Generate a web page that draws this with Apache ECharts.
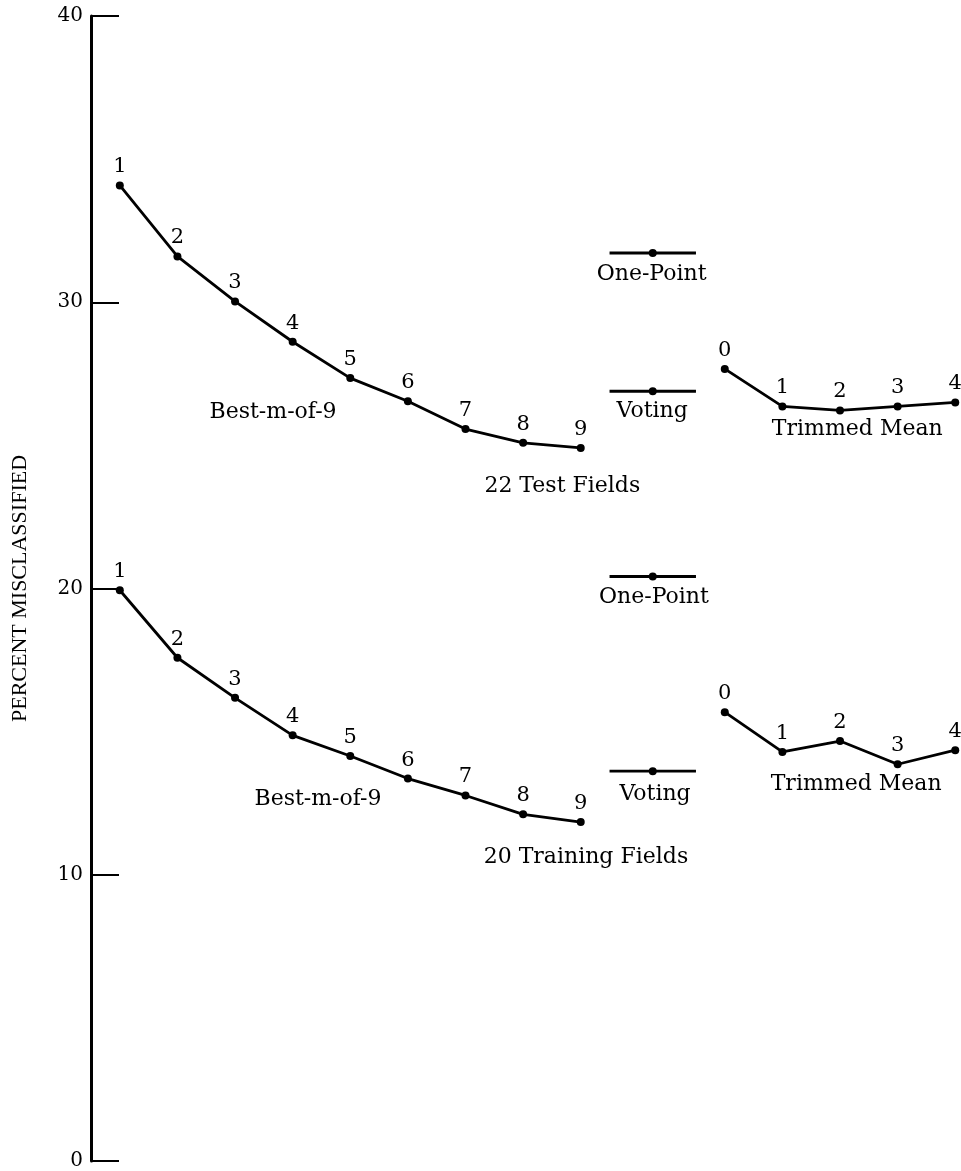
<!DOCTYPE html>
<html><head><meta charset="utf-8">
<script src="https://cdn.jsdelivr.net/npm/echarts@6/dist/echarts.min.js"></script>
<style>html,body{margin:0;padding:0;background:#fff}#c{width:961px;height:1171px}</style>
</head><body><div id="c"></div>
<script>
// ---- data ----
const yTicks = [0, 10, 20, 30, 40];
const bestM = [1, 2, 3, 4, 5, 6, 7, 8, 9];
const testBest = [34.08, 31.6, 30.03, 28.62, 27.35, 26.54, 25.57, 25.09, 24.91];
const trainBest = [19.94, 17.58, 16.18, 14.87, 14.15, 13.36, 12.77, 12.11, 11.84];
const trimK = [0, 1, 2, 3, 4];
const testTrim = [27.67, 26.36, 26.22, 26.36, 26.5];
const trainTrim = [15.68, 14.29, 14.67, 13.86, 14.35];
const testOnePoint = 31.72;
const testVoting = 26.89;
const trainOnePoint = 20.42;
const trainVoting = 13.62;
const annotations = [
  ['One-Point', 10.23, 30.96],
  ['Voting', 10.24, 26.19],
  ['Best-m-of-9', 3.66, 26.14],
  ['22 Test Fields', 8.68, 23.57],
  ['Trimmed Mean', 13.8, 25.57],
  ['One-Point', 10.27, 19.69],
  ['Voting', 10.29, 12.81],
  ['Best-m-of-9', 4.44, 12.64],
  ['20 Training Fields', 9.09, 10.61],
  ['Trimmed Mean', 13.78, 13.16]
];
const yName = 'PERCENT MISCLASSIFIED';

// ---- layout helpers ----
const FONT = 'DejaVu Serif';
const INK = '#000';
const trimX0 = 11.5;      // x position of trimmed-mean k=0
const segX = [9.5, 10.25, 11.0]; // short one-point / voting segments

function curve(xs, ys, ks) {
  return {
    type: 'line', clip: false,
    data: ys.map((v, i) => [xs[i], v, ks[i]]),
    symbol: 'circle', symbolSize: 8,
    itemStyle: { color: INK, opacity: 1 },
    lineStyle: { color: INK, width: 2.8 },
    label: {
      show: true, position: 'top', distance: 4,
      formatter: p => String(p.value[2]),
      fontFamily: FONT, fontSize: 21, color: INK
    },
    emphasis: { disabled: true }, silent: true
  };
}
function seg(v) {
  return {
    type: 'line', clip: false,
    data: segX.map((x, i) => ({ value: [x, v], symbol: i === 1 ? 'circle' : 'none' })),
    symbolSize: 8, showAllSymbol: true,
    itemStyle: { color: INK, opacity: 1 },
    lineStyle: { color: INK, width: 2.8 },
    emphasis: { disabled: true }, silent: true
  };
}

const chart = echarts.init(document.getElementById('c'));
chart.setOption({
  animation: false,
  backgroundColor: '#fff',
  grid: { left: 91, right: 0, top: 16, bottom: 9, containLabel: false },
  xAxis: { type: 'value', min: 0.5, max: 15.6, show: false },
  yAxis: {
    type: 'value', min: yTicks[0], max: yTicks[yTicks.length - 1], interval: 10,
    name: yName, nameLocation: 'middle', nameGap: 60, nameRotate: 90,
    nameTextStyle: { fontFamily: 'Liberation Serif', fontSize: 22, color: INK },
    axisLine: { show: true, lineStyle: { color: INK, width: 3 } },
    axisTick: { show: true, inside: true, length: 28, lineStyle: { color: INK, width: 2 } },
    axisLabel: { fontFamily: FONT, fontSize: 20, color: INK, margin: 8 },
    splitLine: { show: false }
  },
  series: [
    curve(bestM, testBest, bestM),
    curve(bestM, trainBest, bestM),
    curve(trimK.map(k => trimX0 + k), testTrim, trimK),
    curve(trimK.map(k => trimX0 + k), trainTrim, trimK),
    seg(testOnePoint), seg(testVoting), seg(trainOnePoint), seg(trainVoting),
    {
      type: 'scatter', clip: false, symbolSize: 0,
      itemStyle: { opacity: 1, color: INK },
      data: annotations.map(a => ({ name: a[0], value: [a[1], a[2]] })),
      label: { show: true, position: 'inside', formatter: '{b}', fontFamily: FONT, fontSize: 22, color: INK, opacity: 1 },
      emphasis: { disabled: true }, silent: true
    }
  ]
});
</script></body></html>
